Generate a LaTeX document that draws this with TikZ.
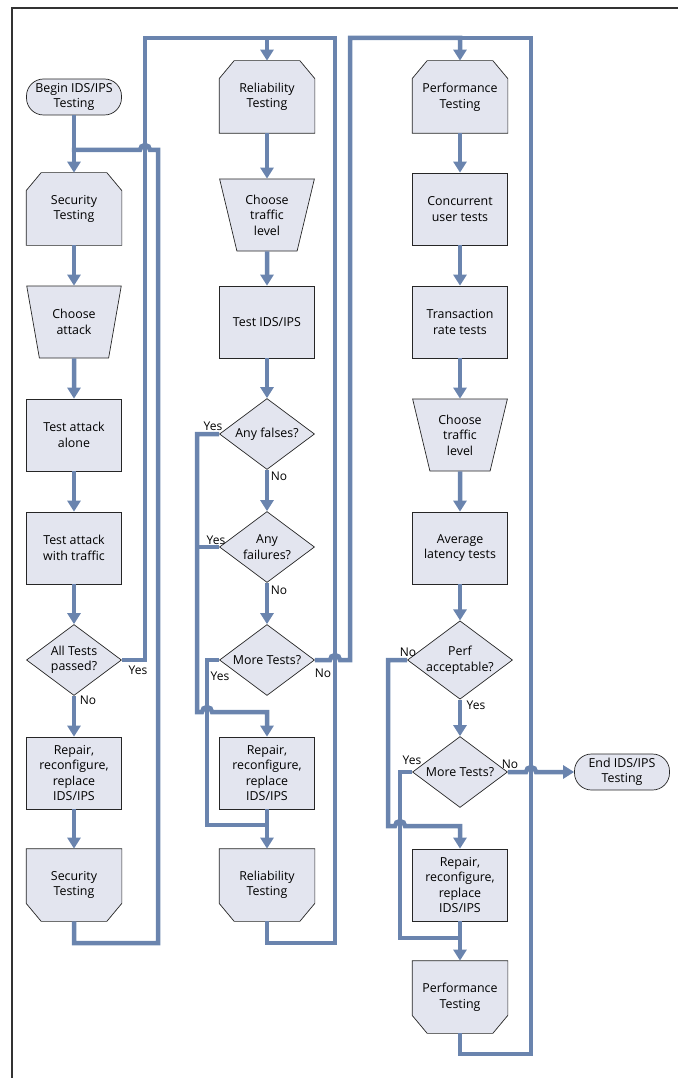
\documentclass[tikz,border=0pt]{standalone}
\usepackage{fontspec}
\setmainfont{Open Sans}
\usetikzlibrary{arrows.meta,shapes.geometric,backgrounds,calc}
\definecolor{flowblue}{HTML}{6A84AE}
\definecolor{boxfill}{HTML}{E3E5EF}
\tikzset{
    base/.style = {draw = black!85, line width = 0.7pt, fill = boxfill, align = center,
        font = \fontsize{12.4}{15.5}\selectfont, inner sep = 1pt},
    terminal/.style = {base, rectangle, rounded corners = 17pt, minimum width = 95pt, minimum height = 36pt},
    stepbox/.style = {base, rectangle, minimum width = 95pt, minimum height = 72pt},
    cutbox/.style = {stepbox, draw = none, fill = none},
    cutline/.style = {fill = boxfill, draw = black!85, line width = 0.7pt},
    manual/.style = {base, trapezium, shape border rotate = 180, trapezium stretches = true,
        trapezium left angle = 73, trapezium right angle = 73,
        minimum width = 95pt, minimum height = 72pt},
    decision/.style = {base, diamond, aspect = 1.34, inner sep = 0pt,
        minimum width = 95pt, minimum height = 71pt},
    conn/.style = {draw = flowblue, line width = 4.5pt},
    arr/.style = {conn, -{Triangle[width = 13pt, length = 11pt]}},
    lbl/.style = {font = \fontsize{12}{14}\selectfont, inner sep = 1pt},
    frame/.style = {draw = black!80, line width = 1.2pt}
}
\begin{document}
\begin{tikzpicture}[x = 1pt, y = -1pt]
    \useasboundingbox (0,0) rectangle (678,1078);
    \draw[frame] (12,1078) -- (12,8) -- (678,8);

    % security column
    \node[terminal] (begin) at (74,97) {Begin IDS/IPS\\Testing};
    \node[cutbox] (sec1) at (74,209) {Security\\Testing};
    \node[manual] (attack) at (74,322) {Choose\\attack};
    \node[stepbox] (alone) at (74,435) {Test attack\\alone};
    \node[stepbox] (withtraffic) at (74,548) {Test attack\\with traffic};
    \node[decision] (passed) at (74,660) {All Tests\\passed?};
    \node[stepbox] (repair1) at (74,773) {Repair,\\reconfigure,\\replace\\IDS/IPS};
    \node[cutbox] (sec2) at (74,885) {Security\\Testing};

    % reliability column
    \node[cutbox] (rel1) at (267,97) {Reliability\\Testing};
    \node[manual] (traffic1) at (267,215) {Choose\\traffic\\level};
    \node[stepbox] (testids) at (267,322) {Test IDS/IPS};
    \node[decision] (falses) at (267,434) {Any falses?};
    \node[decision] (failures) at (267,547) {Any\\failures?};
    \node[decision] (more2) at (267,660) {More Tests?};
    \node[stepbox] (repair2) at (267,773) {Repair,\\reconfigure,\\replace\\IDS/IPS};
    \node[cutbox] (rel2) at (267,885) {Reliability\\Testing};

    % performance column
    \node[cutbox] (perf1) at (460,97) {Performance\\Testing};
    \node[stepbox] (concurrent) at (460,209) {Concurrent\\user tests};
    \node[stepbox] (transaction) at (460,322) {Transaction\\rate tests};
    \node[manual] (traffic2) at (460,435) {Choose\\traffic\\level};
    \node[stepbox] (latency) at (460,548) {Average\\latency tests};
    \node[decision] (acceptable) at (460,660) {Perf\\acceptable?};
    \node[decision] (more3) at (460,772) {More Tests?};
    \node[stepbox] (repair3) at (460,885) {Repair,\\reconfigure,\\replace\\IDS/IPS};
    \node[cutbox] (perf2) at (460,997) {Performance\\Testing};
    \node[terminal] (end) at (622,772) {End IDS/IPS\\Testing};

    % cut-corner outlines behind the start / end boxes
    \begin{scope}[on background layer]
        \foreach \n in {sec1, rel1, perf1}
            \filldraw[cutline] (\n.south west) -- ($(\n.north west)+(0,18)$) -- ($(\n.north west)+(15,0)$)
                -- ($(\n.north east)+(-15,0)$) -- ($(\n.north east)+(0,18)$) -- (\n.south east) -- cycle;
        \foreach \n in {sec2, rel2, perf2}
            \filldraw[cutline] (\n.north west) -- ($(\n.south west)+(0,-18)$) -- ($(\n.south west)+(15,0)$)
                -- ($(\n.south east)+(-15,0)$) -- ($(\n.south east)+(0,-18)$) -- (\n.north east) -- cycle;
    \end{scope}

    % straight flow
    \foreach \a/\b in {begin/sec1, sec1/attack, attack/alone, alone/withtraffic, withtraffic/passed,
        passed/repair1, repair1/sec2, rel1/traffic1, traffic1/testids, testids/falses,
        falses/failures, failures/more2, repair2/rel2, perf1/concurrent, concurrent/transaction,
        transaction/traffic2, traffic2/latency, latency/acceptable, acceptable/more3, repair3/perf2}
        \draw[arr] (\a) -- (\b);

    % loops back to the top of each column
    \draw[conn] (sec2.south) |- (158,943) -- (158,150) -- (150,150) arc (0:-180:5) -- (71.75,150);
    \draw[arr] (passed.east) -| (145,38) -| (rel1.north);
    \draw[conn] (rel2.south) |- (335,943) -- (335,38) -- (264.75,38);
    \draw[arr] (more2.east) -- (330,660) arc (180:360:5) -- (350,660) -- (350,38) -| (perf1.north);
    \draw[conn] (perf2.south) |- (531,1054) -- (531,38) -- (457.75,38);
    \draw[arr] (more3.east) -- (526,772) arc (180:360:5) -- (end.west);

    % yes / no branches
    \draw[arr] (falses.west) -- (197,434) -- (197,712) -- (202,712) arc (180:360:5) -- (267,712) -- (repair2.north);
    \draw[conn] (failures.west) -- (194.75,547);
    \draw[conn] (more2.west) -- (207,660) -- (207,825) -- (269.25,825);
    \draw[arr] (acceptable.west) -- (388,660) -- (388,826) -- (395,826) arc (180:360:5) -- (460,826) -- (repair3.north);
    \draw[conn] (more3.west) -- (400,772) -- (400,938) -- (462.25,938);

    % labels
    \node[lbl] (passedyes) at (138,670) {Yes};
    \node[lbl] (passedno) at (88,700) {No};
    \node[lbl] (falsesyes) at (213,426) {Yes};
    \node[lbl] (falsesno) at (279,476) {No};
    \node[lbl] (failuresyes) at (216,540) {Yes};
    \node[lbl] (failuresno) at (279,590) {No};
    \node[lbl] (more2yes) at (220,676) {Yes};
    \node[lbl] (more2no) at (323,673) {No};
    \node[lbl] (acceptableno) at (408,652) {No};
    \node[lbl] (acceptableyes) at (476,705) {Yes};
    \node[lbl] (more3yes) at (412,760) {Yes};
    \node[lbl] (more3no) at (510,764) {No};
\end{tikzpicture}
\end{document}
